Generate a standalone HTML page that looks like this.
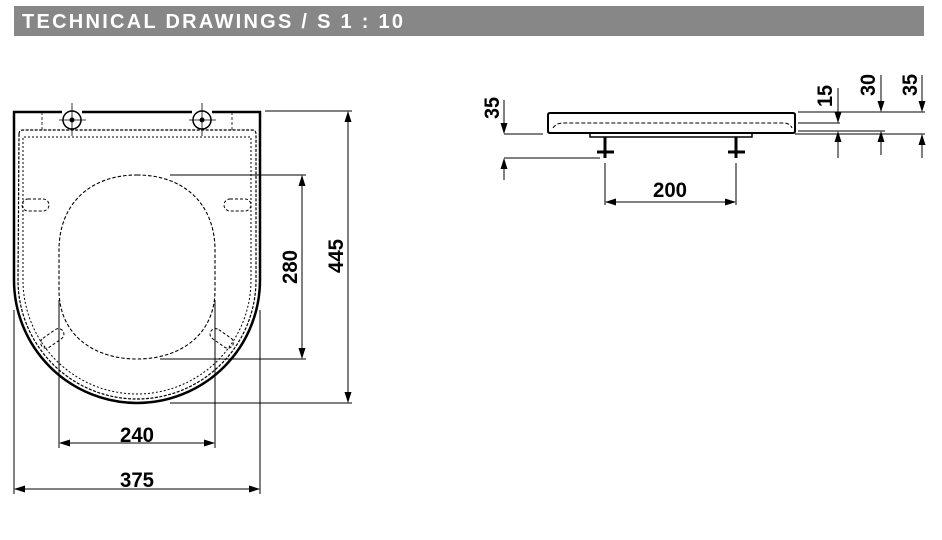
<!DOCTYPE html>
<html><head><style>body{margin:0;background:#fff}svg{display:block}</style></head><body>
<svg width="942" height="540" viewBox="0 0 942 540" xmlns="http://www.w3.org/2000/svg" font-family="Liberation Sans, sans-serif">
<rect x="14" y="6" width="910" height="30" fill="#878787"/>
<text x="22" y="28" fill="#fff" font-weight="bold" font-size="20" textLength="381" lengthAdjust="spacing">TECHNICAL DRAWINGS / S 1 : 10</text>

<g fill="none" stroke="#000">
<path d="M62,112 L14,112 L14,280 A123,123 0 0 0 260,280 L260,112 L212,112 M82,112 L192,112" stroke-width="2.5"/>
<circle cx="72" cy="120" r="9" stroke-width="1.5"/>
<circle cx="202" cy="120" r="9" stroke-width="1.5"/>
<circle cx="72" cy="120" r="2" fill="#000"/>
<circle cx="202" cy="120" r="2" fill="#000"/>
<path d="M72,103V136M59,120H86M202,103V136M189,120H216" stroke-width="0.8"/>
<path d="M42,112V130M232,112V130" stroke-width="0.8" stroke-dasharray="3,2"/>
<path d="M19,134 Q19,130 23,130 L252,130 Q256,130 256,134 L256,280 A119,119 0 0 1 18,280 Z" stroke-width="1.2" stroke-dasharray="3,1.5"/>
<path d="M23,280 L23,137 L251,137 L251,280 A114,114 0 0 1 23,280" stroke-width="1" stroke-dasharray="2,2"/>
<path d="M137,175 C185,175 215,205 215,250 L215,290 C215,335 180,359 137,359 C94,359 59,335 59,290 L59,250 C59,205 89,175 137,175Z" stroke-width="1.1" stroke-dasharray="3.5,2"/>
<rect x="22" y="199" width="27" height="12" rx="6" stroke-width="1" stroke-dasharray="3,2"/>
<rect x="224" y="199" width="27" height="12" rx="6" stroke-width="1" stroke-dasharray="3,2"/>
<rect x="39" y="333" width="26" height="11" rx="5.5" stroke-width="1" stroke-dasharray="3,2" transform="rotate(-35 52 338)"/>
<rect x="209" y="333" width="26" height="11" rx="5.5" stroke-width="1" stroke-dasharray="3,2" transform="rotate(35 222 338)"/>
<g stroke-width="1">
<path d="M170,175H306M160,359H306M265,111H352M170,403H352"/>
<path d="M302,176V358M348,112V402M60,443H214M15,489H259"/>
<path d="M59,300V448M215,300V448M14,310V494M260,310V494"/>
</g>
<path d="M550,113 L793,113 Q795,113 795,115 L795,131 Q795,133 793,133 L550,133 Q548,133 548,131 L548,115 Q548,113 550,113Z" stroke-width="2"/>
<path d="M553,128 Q556,123 563,123 L783,123 Q790,123 792,128" stroke-width="1" stroke-dasharray="4,2"/>
<path d="M590,133 L590,137 L752,137 L752,133" stroke-width="1.5"/>
<path d="M605,137V158M736,137V158" stroke-width="3"/>
<path d="M597,152H614M728,152H745" stroke-width="3"/>
<g stroke-width="1">
<path d="M504,134H543M504,158H600"/>
<path d="M504,100V133M504,180V159"/>
<path d="M605,163V205M736,163V205"/>
<path d="M606,202H735"/>
<path d="M798,112H925M798,123H840M798,131H885M795,134H925"/>
<path d="M838,88V122M838,158V132M881,75V111M881,155V132M922,75V111M922,158V135"/>
</g>
</g>
<g fill="#000">
<path d="M302,175l-3.5,11h7z M302,359l-3.5,-11h7z"/>
<path d="M348,111l-3.5,11h7z M348,403l-3.5,-11h7z"/>
<path d="M59,443l11,-3.5v7z M215,443l-11,-3.5v7z"/>
<path d="M14,489l11,-3.5v7z M260,489l-11,-3.5v7z"/>
<path d="M605,202l11,-3.5v7z M736,202l-11,-3.5v7z"/>
<path d="M504,134l-3.5,-11h7z M504,158l-3.5,11h7z"/>
<path d="M838,123l-3.5,-11h7z M838,131l-3.5,11h7z"/>
<path d="M881,112l-3.5,-11h7z M881,131l-3.5,11h7z"/>
<path d="M922,112l-3.5,-11h7z M922,134l-3.5,11h7z"/>
</g>
<g font-weight="bold" font-size="21" fill="#000" text-anchor="middle">
<text x="137" y="442" textLength="34" lengthAdjust="spacingAndGlyphs">240</text>
<text x="137" y="487" textLength="34" lengthAdjust="spacingAndGlyphs">375</text>
<text x="670" y="197" textLength="34" lengthAdjust="spacingAndGlyphs">200</text>
<text transform="translate(297,267) rotate(-90)" textLength="34" lengthAdjust="spacingAndGlyphs">280</text>
<text transform="translate(343,256) rotate(-90)" textLength="34" lengthAdjust="spacingAndGlyphs">445</text>
<text transform="translate(499,108) rotate(-90)" textLength="22" lengthAdjust="spacingAndGlyphs">35</text>
<text transform="translate(832,96) rotate(-90)" textLength="22" lengthAdjust="spacingAndGlyphs">15</text>
<text transform="translate(875,85) rotate(-90)" textLength="22" lengthAdjust="spacingAndGlyphs">30</text>
<text transform="translate(917,85) rotate(-90)" textLength="22" lengthAdjust="spacingAndGlyphs">35</text>
</g>
</svg>
</body></html>
